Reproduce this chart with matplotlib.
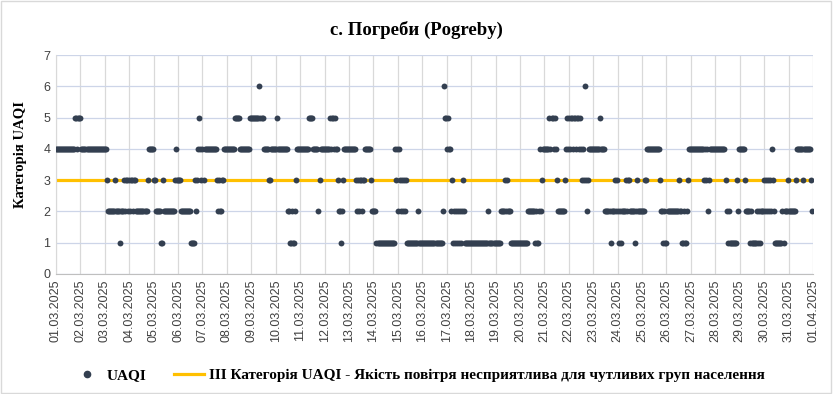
import numpy as np
import matplotlib
matplotlib.use("Agg")
import matplotlib.pyplot as plt
from matplotlib.lines import Line2D
from matplotlib.patches import Rectangle

# hourly UAQI category from 01.03.2025 00:00, stored as runs: value / number of hours
run_values = [
    4, 5, 4, 5, 4,
    3, 2, 3, 2, 1, 2, 3, 2, 3, 2,
    3, 2, 3, 2, 3, 2, 3, 4,
    3, 2, 1, 3, 2, 3, 4,
    3, 2, 1, 3, 2, 3, 4, 5, 4, 3,
    4, 3, 4, 3, 2, 3, 2, 3, 4,
    5, 4, 5,
    6, 5, 4, 3, 4,
    5, 4, 2, 1, 2, 1, 2, 3, 4,
    5, 4, 2, 3, 4,
    5, 4, 5, 4, 5, 4, 3, 2, 1, 2, 3, 4,
    3, 2, 3, 2, 3, 2, 3, 4, 3, 2,
    1, 4, 3, 4,
    2, 4, 3, 2, 3, 2, 3, 2, 3, 1, 2, 1,
    2, 6, 5,
    4, 5, 4, 2, 3, 1, 2, 1, 2, 1, 2, 1, 2, 1, 2, 3, 2, 1,
    2, 1,
    2, 3, 2, 3, 2, 1,
    2, 1, 2, 1, 2, 4, 2, 3, 4,
    5, 4, 5, 4, 5, 4, 3, 2, 3, 4, 5, 4,
    5, 4, 5, 4, 5, 4, 5, 4, 5, 4, 3, 4, 3, 6, 3, 2, 3, 4,
    5, 4, 2, 1, 2, 3, 2, 3,
    2, 1, 2, 1, 2, 3, 2, 3, 2, 1, 2, 3, 2,
    3, 4, 3, 2, 1, 2, 1,
    2, 3, 2, 1, 2, 1, 2, 3, 4,
    3, 4, 3, 4, 2, 3, 4,
    3, 2, 1, 2, 1, 3, 2, 4,
    3, 2, 1, 2, 1, 2, 1, 2, 1, 2,
    3, 2, 3, 2, 3, 2, 3, 2, 4, 3, 2, 1, 2, 1, 2, 3,
    2, 3, 4, 3, 4, 3, 2,
]
run_hours = [
    19, 2, 1, 3, 25,
    1, 7, 1, 4, 1, 3, 1, 1, 2, 1,
    1, 1, 2, 1, 2, 11, 1, 5,
    2, 5, 2, 1, 11, 1, 1,
    4, 10, 4, 1, 1, 1, 1, 1, 1, 1,
    1, 1, 12, 1, 1, 1, 2, 2, 11,
    5, 10, 9,
    1, 3, 5, 2, 6,
    1, 10, 2, 2, 1, 2, 1, 1, 12,
    4, 5, 1, 1, 9,
    1, 1, 2, 1, 1, 2, 1, 2, 1, 1, 1, 12,
    1, 1, 1, 1, 2, 1, 2, 6, 1, 4,
    18, 1, 1, 1,
    1, 1, 1, 1, 1, 1, 1, 1, 1, 11, 1, 23,
    1, 1, 2,
    1, 1, 2, 1, 1, 1, 1, 1, 1, 1, 1, 1, 1, 1, 1, 1, 1, 23,
    1, 11,
    4, 1, 1, 1, 3, 17,
    7, 1, 1, 2, 1, 1, 1, 1, 6,
    1, 1, 2, 1, 1, 1, 1, 7, 1, 1, 1, 1,
    1, 1, 2, 1, 2, 1, 2, 1, 1, 1, 1, 1, 1, 1, 1, 1, 1, 11,
    1, 4, 5, 1, 3, 1, 1, 1,
    1, 1, 1, 1, 4, 1, 1, 2, 5, 1, 1, 1, 7,
    2, 13, 1, 2, 1, 1, 2,
    11, 1, 2, 2, 1, 2, 1, 1, 15,
    1, 1, 1, 1, 1, 1, 15,
    1, 1, 1, 1, 7, 1, 1, 6,
    1, 4, 1, 1, 5, 1, 1, 1, 1, 3,
    1, 1, 1, 1, 1, 1, 1, 1, 1, 1, 1, 7, 1, 1, 3, 1,
    7, 1, 6, 1, 7, 1, 1,
]
date_labels = ["%02d.03.2025" % d for d in range(1, 32)] + ["01.04.2025"]
threshold = 3
threshold_label = "ІІІ Категорія UAQI - Якість повітря несприятлива для чутливих груп населення"

uaqi = np.repeat(run_values, run_hours)
days = np.arange(len(uaqi)) / 24.0

dot_color = "#333F50"
line_color = "#FFC000"
serif = "Liberation Serif"
sans = "Liberation Sans"

fig = plt.figure(figsize=(8.33, 3.94), dpi=100)
ax = fig.add_axes([0.0672, 0.3046, 0.9088, 0.5558])

ax.axhline(threshold, color=line_color, lw=2.3, zorder=2)
ax.scatter(days, uaqi, s=18, color=dot_color, linewidths=0, zorder=3)

ax.set_xlim(0, len(date_labels) - 1)
ax.set_ylim(0, 7)
ax.set_xticks(range(len(date_labels)))
ax.set_xticklabels(date_labels, rotation=90, fontsize=9, family=sans, color="#404040")
ax.set_yticks(range(8))
ax.set_yticklabels([str(v) for v in range(8)], fontsize=9, family=sans, color="#404040")
ax.tick_params(length=0, pad=4)

ax.grid(axis="y", color="#CDD5E8", lw=0.9)
ax.grid(axis="x", color="#D9D9D9", lw=0.9)
ax.set_axisbelow(True)
for side in ("top", "right"):
    ax.spines[side].set_visible(False)
ax.spines["left"].set_color("#D9D9D9")
ax.spines["bottom"].set_color("#BFBFBF")

fig.text(0.5, 1 - 30 / 394, "с. Погреби (Pogreby)", ha="center", va="center",
         fontsize=13.5, weight="bold", family=serif)
fig.text(0.024, 1 - 155 / 394, "Категорія UAQI", rotation=90, ha="center", va="center",
         fontsize=10.5, weight="bold", family=serif)

handles = [
    Line2D([], [], ls="none", marker="o", markersize=4.5, color=dot_color, label="UAQI"),
    Line2D([], [], color=line_color, lw=2.3, label=threshold_label),
]
fig.legend(handles=handles, loc="center", bbox_to_anchor=(0.502, 0.048), ncol=2,
           frameon=False, handlelength=2, handletextpad=0.3, columnspacing=1.8,
           prop={"family": serif, "weight": "bold", "size": 11})

fig.patches.append(Rectangle((0.001, 0.002), 0.997, 0.995, transform=fig.transFigure,
                             fill=False, edgecolor="#D9D9D9", lw=1))

fig.savefig("out.png", dpi=100)
